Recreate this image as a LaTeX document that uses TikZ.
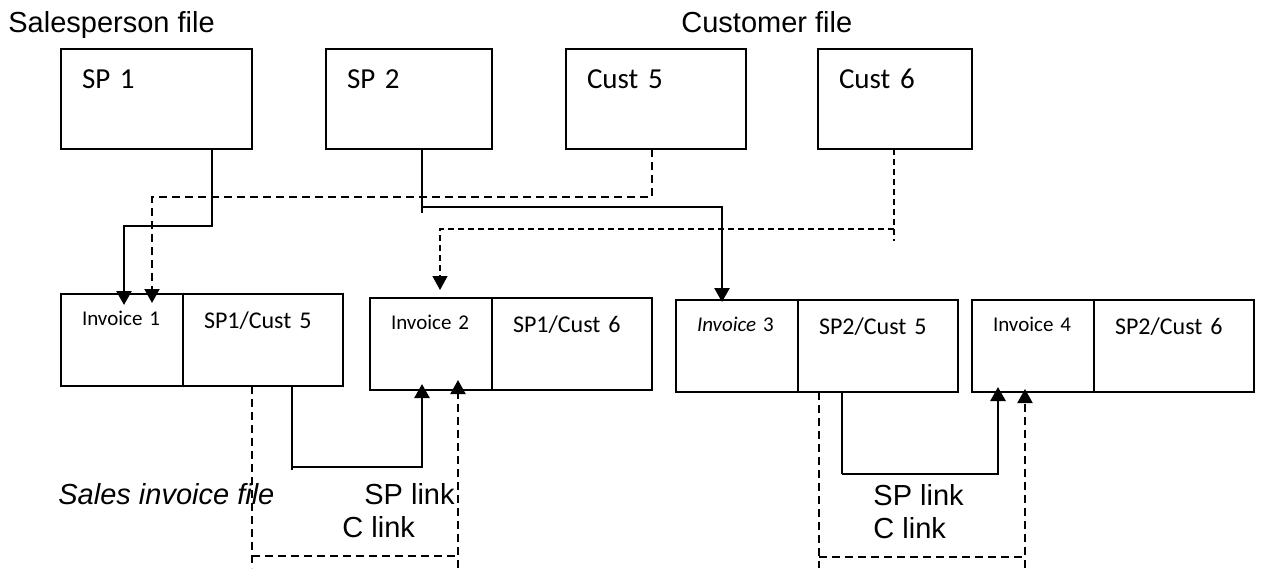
\documentclass[tikz,border=0pt]{standalone}
\usepackage{fontspec}
\setmainfont{Liberation Sans}
\newfontfamily\calibri{Carlito}
\usetikzlibrary{positioning,arrows.meta}

\begin{document}
\begin{tikzpicture}[x=0.5pt, y=-0.5pt,
	filebox/.style={draw, line width=0.85pt, outer sep=0pt, inner xsep=10.5pt, inner ysep=0pt, text height=19.5pt, text depth=30.5pt, align=left, anchor=north west, font=\calibri\fontsize{14.5}{17}\selectfont},
	invbox/.style={draw, line width=0.85pt, outer sep=0pt, inner xsep=10.5pt, inner ysep=0pt, text width=40pt, text height=15.5pt, text depth=30.5pt, align=left, anchor=north west, font=\calibri\fontsize{10.5}{12}\selectfont},
	pairbox/.style={invbox, text width=59pt, text height=17pt, text depth=29pt, font=\calibri\fontsize{12}{14}\selectfont},
	caption/.style={anchor=base west, inner sep=0pt, font=\fontsize{14.5}{17}\selectfont},
	filledtip/.style={-{Triangle[width=7.5pt,length=7pt]}},
	splink/.style={line width=1.35pt, filledtip},
	sptail/.style={line width=0.7pt},
	clink/.style={line width=1pt, dash pattern=on 4pt off 2.5pt},
	cfine/.style={line width=0.7pt, dash pattern=on 3pt off 2pt}]
	\useasboundingbox (0,0) rectangle (1264,568);

	% master files
	\node[caption] (spfile) at (8,32) {Salesperson file};
	\node[caption] (custfile) at (681,32) {Customer file};
	\node[filebox, text width=74.5pt] (sp1) at (61,49) {SP 1};
	\node[filebox, text width=62pt] (sp2) at (326,49) {SP 2};
	\node[filebox, text width=69pt] (cust5) at (566,49) {Cust 5};
	\node[filebox, text width=56pt] (cust6) at (818,49) {Cust 6};

	% invoice records
	\node[invbox] (inv1) at (61,294) {Invoice 1};
	\node[pairbox, right=0pt of inv1] (pair1) {SP1/Cust 5};
	\node[invbox] (inv2) at (370,298) {Invoice 2};
	\node[pairbox, right=0pt of inv2] (pair2) {SP1/Cust 6};
	\node[invbox] (inv3) at (676,300) {\textit{Invoice} 3};
	\node[pairbox, right=0pt of inv3] (pair3) {SP2/Cust 5};
	\node[invbox] (inv4) at (972,300) {Invoice 4};
	\node[pairbox, right=0pt of inv4] (pair4) {SP2/Cust 6};

	\node[caption, font=\itshape\fontsize{14.5}{17}\selectfont] (salesfile) at (58,504) {Sales invoice file};
	\node[caption] (splabel1) at (364,504) {SP link};
	\node[caption] (clabel1) at (342,537) {C link};
	\node[caption] (splabel2) at (873,505) {SP link};
	\node[caption] (clabel2) at (873,538) {C link};

	% salesperson pointers
	\draw[splink, shorten >=-5.5pt] (sp1.south -| 212,0) -- (212,226) -| (inv1.north -| 124,0);
	\coordinate (sp2turn) at (422,207);
	\draw[sptail] (sp2.south -| sp2turn) -- ([yshift=-3pt]sp2turn);
	\draw[splink, shorten >=-1pt] (sp2turn) -| (inv3.north -| 722,0);

	% customer pointers
	\draw[clink, filledtip, shorten >=-4.5pt] (cust5.south -| 652,0) -- (652,197) -| (inv1.north -| 152,0);
	\coordinate (cust6turn) at (894,229);
	\draw[cfine] (cust6.south -| cust6turn) -- ([yshift=-6pt]cust6turn);
	\draw[cfine, filledtip, shorten >=4pt] (cust6turn) -| (inv2.north -| 440,0);

	% chains from one invoice to the next
	\coordinate (link1) at (292,467);
	\draw[sptail] (pair1.south -| link1) -- ([yshift=-1.5pt]link1);
	\draw[splink, shorten >=-3pt] (link1) -| (inv2.south -| 422,0);
	\coordinate (chain1) at (252,556);
	\draw[clink] (pair1.south -| chain1) -- (chain1 |- 0,568) (chain1) -- (458,556);
	\draw[clink, filledtip, shorten >=-5pt] (458,568) -- (inv2.south -| 458,0);

	\coordinate (link2) at (842,474);
	\draw[sptail] (pair3.south -| link2) -- (link2);
	\draw[splink, shorten >=-2.5pt] (link2) -| (inv4.south -| 998,0);
	\coordinate (chain2) at (819,557);
	\draw[clink] (pair3.south -| chain2) -- (chain2 |- 0,568) (chain2) -- (1025,557);
	\draw[clink, filledtip, shorten >=-1.5pt] (1025,568) -- (inv4.south -| 1025,0);
\end{tikzpicture}
\end{document}
